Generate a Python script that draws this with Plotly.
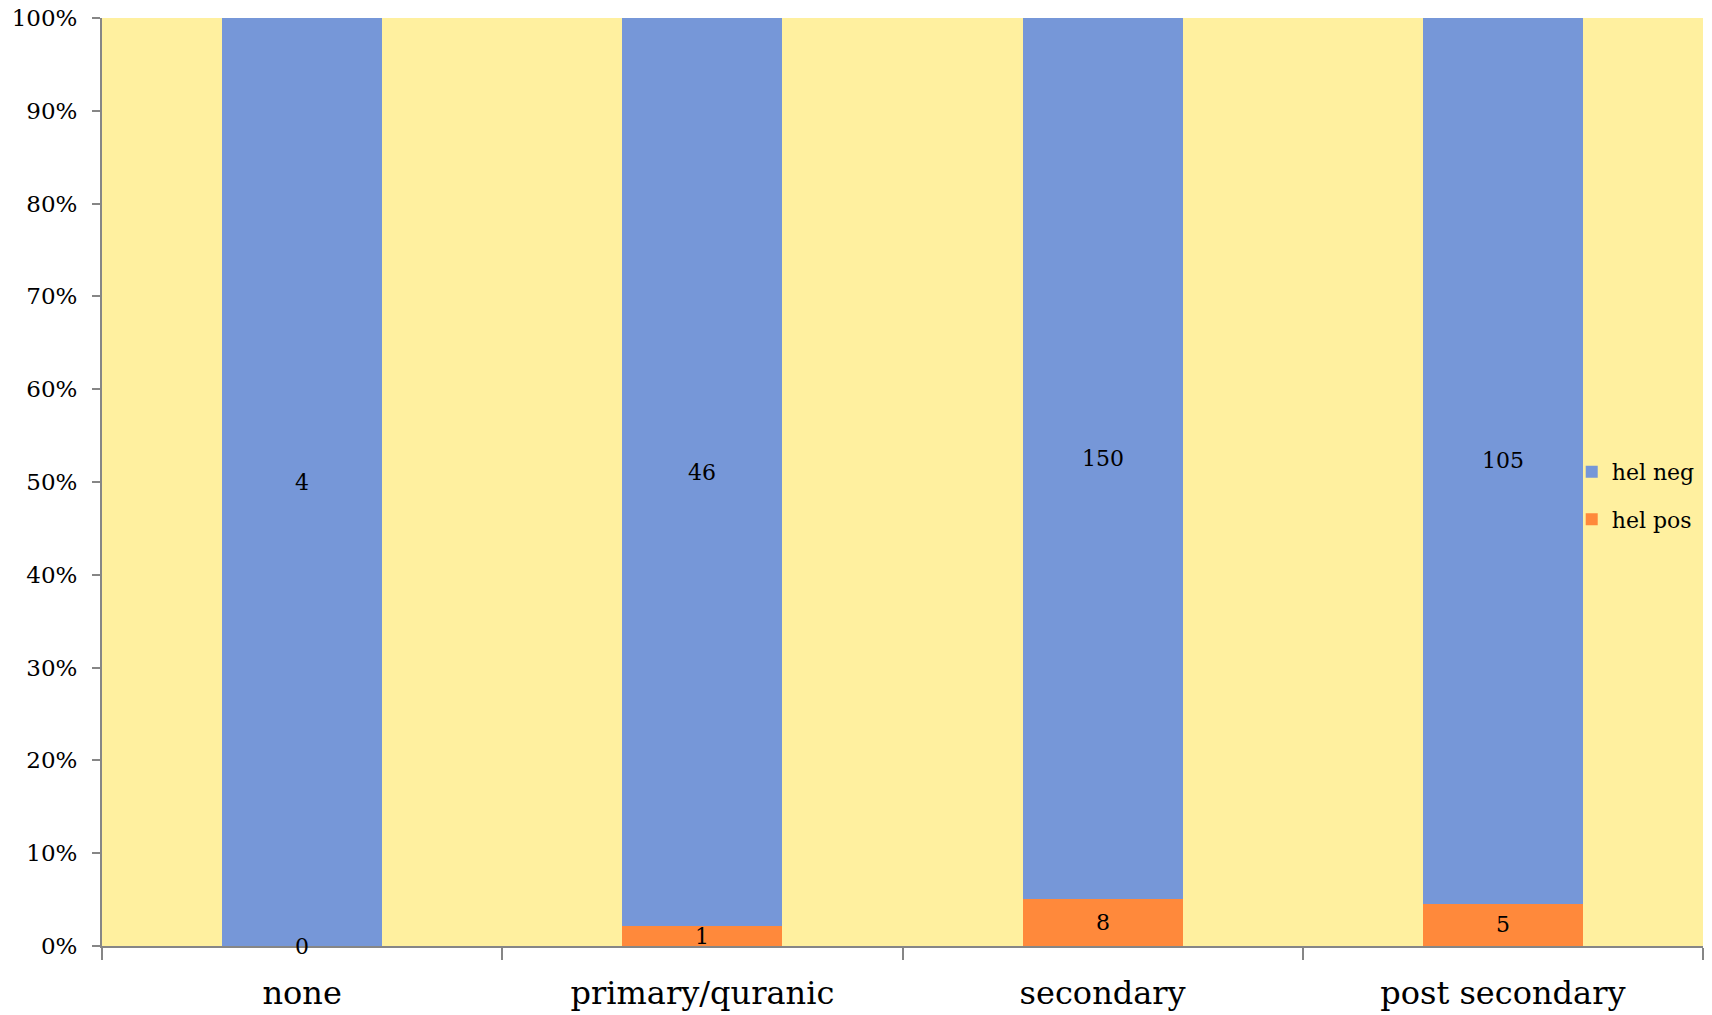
import plotly.graph_objects as go

# Education level vs. helminth status (counts per category)
categories = ["none", "primary/quranic", "secondary", "post secondary"]
hel_pos = [0, 1, 8, 5]
hel_neg = [4, 46, 150, 105]
y_ticks = [0, 10, 20, 30, 40, 50, 60, 70, 80, 90, 100]

BLUE = "#7697D8"
ORANGE = "#FF893B"
YELLOW = "#FFF09F"
AXIS = "#868686"
FONT = "DejaVu Serif"

fig = go.Figure()
fig.add_trace(go.Bar(x=categories, y=hel_pos, name="hel pos", marker_color=ORANGE,
                     marker_line_width=0, legendgroup="pos", legendrank=2))
fig.add_trace(go.Bar(x=categories, y=hel_neg, name="hel neg", marker_color=BLUE,
                     marker_line_width=0, legendgroup="neg", legendrank=1))

# value labels centred in each stacked segment (percent scale)
for cat, p, n in zip(categories, hel_pos, hel_neg):
    total = p + n
    pos_pct = 100.0 * p / total
    neg_pct = 100.0 * n / total
    fig.add_annotation(x=cat, y=pos_pct / 2, text=str(p), showarrow=False,
                       font=dict(family=FONT, size=22, color="black"))
    fig.add_annotation(x=cat, y=pos_pct + neg_pct / 2, text=str(n), showarrow=False,
                       font=dict(family=FONT, size=22, color="black"))

fig.update_layout(
    width=1712, height=1015,
    barmode="stack", barnorm="percent", bargap=0.6,
    paper_bgcolor="white", plot_bgcolor=YELLOW,
    margin=dict(l=102, r=9, t=18, b=69),
    font=dict(family=FONT, color="black"),
    legend=dict(x=0.918, y=0.485, xanchor="left", yanchor="middle",
                bgcolor="rgba(0,0,0,0)", font=dict(family=FONT, size=22),
                tracegroupgap=16, traceorder="grouped"),
    showlegend=True,
)
fig.update_xaxes(
    showline=True, linecolor=AXIS, linewidth=2, automargin=False,
    ticks="outside", tickson="boundaries", ticklen=12, tickcolor=AXIS, tickwidth=2,
    tickfont=dict(family=FONT, size=32), ticklabelstandoff=18, showgrid=False,
)
fig.update_yaxes(
    range=[0, 100], tickvals=y_ticks, ticktext=[f"{v}%" for v in y_ticks],
    showline=True, linecolor=AXIS, linewidth=2, automargin=False,
    ticks="outside", ticklen=8, tickcolor=AXIS, tickwidth=2,
    tickfont=dict(family=FONT, size=23), ticklabelstandoff=10,
    showgrid=False, zeroline=False,
)

fig.write_html("out.html")
